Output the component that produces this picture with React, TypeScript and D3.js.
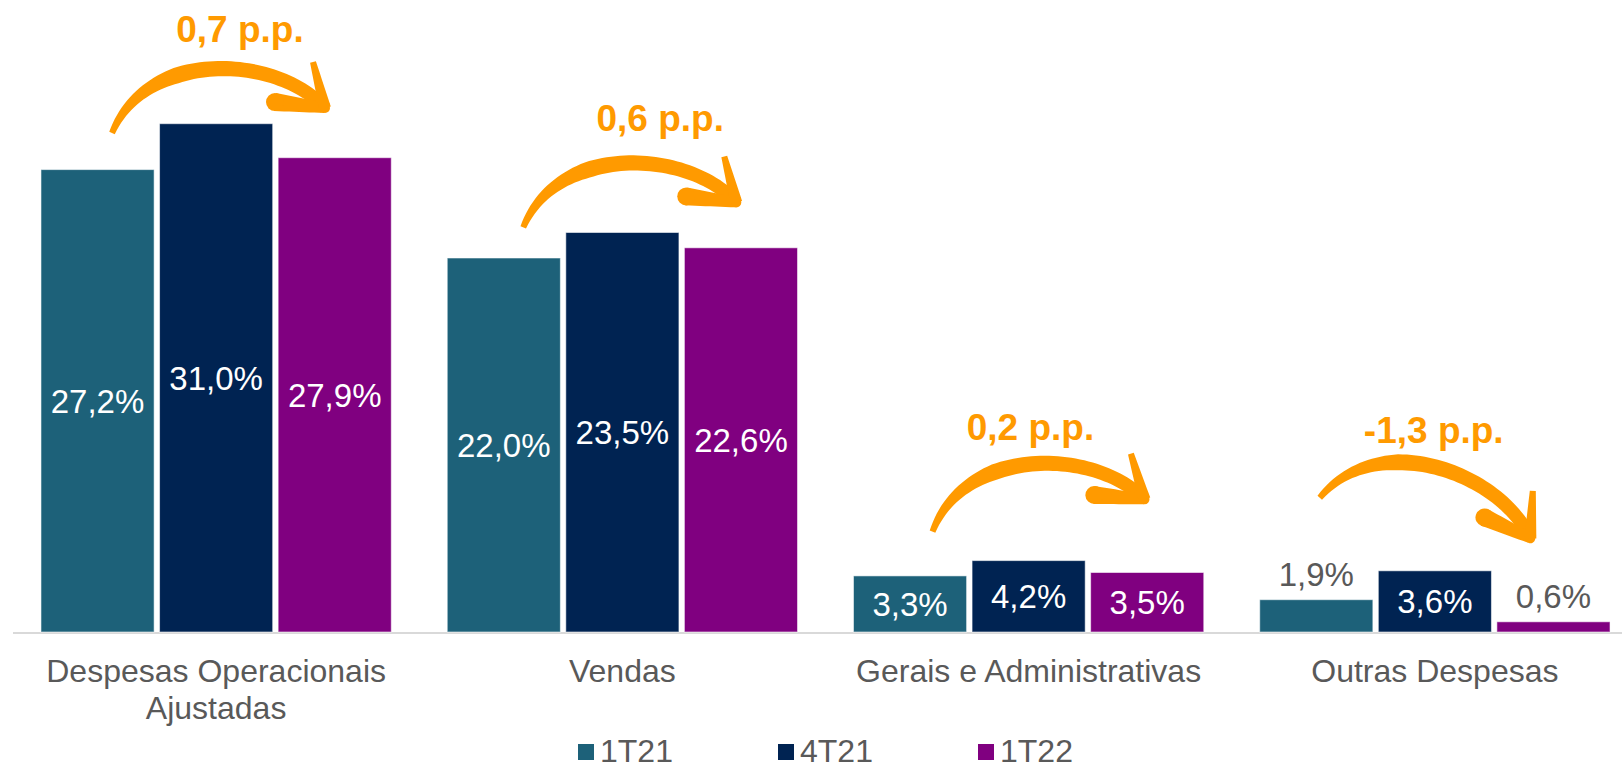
import { useEffect, useRef } from "react";
import * as d3 from "d3";

const categories = ["Despesas Operacionais Ajustadas", "Vendas", "Gerais e Administrativas", "Outras Despesas"];
const categoryLines = [["Despesas Operacionais", "Ajustadas"], ["Vendas"], ["Gerais e Administrativas"], ["Outras Despesas"]];
const series = ["1T21", "4T21", "1T22"];
const values1T21 = [27.2, 22.0, 3.3, 1.9];
const values4T21 = [29.9, 23.5, 4.2, 3.6];
const values1T22 = [27.9, 22.6, 3.5, 0.6];
const labels1T21 = ["27,2%", "22,0%", "3,3%", "1,9%"];
const labels4T21 = ["31,0%", "23,5%", "4,2%", "3,6%"];
const labels1T22 = ["27,9%", "22,6%", "3,5%", "0,6%"];
const deltas = ["0,7 p.p.", "0,6 p.p.", "0,2 p.p.", "-1,3 p.p."];

const colors = ["#1D6179", "#002352", "#800080"];
const ORANGE = "#FF9A00";
const GRAY = "#595959";
const FONT = "'Liberation Sans', Arial, sans-serif";

// arrow placement per category: offset from band start, level in data units, rotation
const arrowLayout = [
  { dx: 99, level: 29.35, rot: 0, tx: 227, tl: 34.7 },
  { dx: 104, level: 23.8, rot: 0, tx: 241, tl: 29.45 },
  { dx: 107, level: 5.9, rot: -2, tx: 205, tl: 11.3 },
  { dx: 88, level: 7.9, rot: 17.6, tx: 202, tl: 11.1 },
];

type P = [number, number];

function bez(p: P[], t: number): P {
  const u = 1 - t;
  const a = u * u * u, b = 3 * u * u * t, c = 3 * u * t * t, d = t * t * t;
  return [a * p[0][0] + b * p[1][0] + c * p[2][0] + d * p[3][0], a * p[0][1] + b * p[1][1] + c * p[2][1] + d * p[3][1]];
}

// closed outline around a polyline with varying width
function tapered(pts: P[], widths: number[]) {
  const left: P[] = [];
  const right: P[] = [];
  pts.forEach((pt, i) => {
    const a = pts[Math.max(0, i - 1)];
    const b = pts[Math.min(pts.length - 1, i + 1)];
    const dx = b[0] - a[0], dy = b[1] - a[1];
    const len = Math.hypot(dx, dy) || 1;
    const nx = -dy / len, ny = dx / len;
    const w = widths[i] / 2;
    left.push([pt[0] + nx * w, pt[1] + ny * w]);
    right.push([pt[0] - nx * w, pt[1] - ny * w]);
  });
  const ring = left.concat(right.reverse());
  return d3.line().curve(d3.curveLinearClosed)(ring) as string;
}

function lerpPts(a: P, b: P, n: number): P[] {
  return d3.range(n + 1).map(i => [a[0] + (b[0] - a[0]) * i / n, a[1] + (b[1] - a[1]) * i / n] as P);
}

export default function App() {
  const svgRef = useRef<SVGSVGElement | null>(null);

  useEffect(() => {
    if (!svgRef.current) return;
    const width = 1622;
    const height = 769;
    const baseline = 632;

    const svg = d3.select(svgRef.current);
    svg.selectAll("*").remove();
    svg.attr("width", width).attr("height", height);

    const x0 = d3.scaleBand<string>().domain(categories).range([13, 1638]).padding(0);
    const x1 = d3.scaleBand<string>().domain(series).range([0, x0.bandwidth()]).paddingInner(0.046).paddingOuter(0.236);
    const y = d3.scaleLinear().domain([0, 35]).range([baseline, baseline - 595]);

    const allValues = [values1T21, values4T21, values1T22];
    const allLabels = [labels1T21, labels4T21, labels1T22];

    // baseline
    svg.append("line")
      .attr("x1", 13).attr("x2", width)
      .attr("y1", baseline + 1).attr("y2", baseline + 1)
      .attr("stroke", "#D9D9D9").attr("stroke-width", 2);

    const rows = categories.flatMap((c, ci) => series.map((s, si) => ({
      c, ci, s, si, v: allValues[si][ci], label: allLabels[si][ci],
    })));

    svg.append("g").selectAll("rect")
      .data(rows)
      .enter()
      .append("rect")
      .attr("x", d => x0(d.c)! + x1(d.s)!)
      .attr("y", d => y(d.v))
      .attr("width", x1.bandwidth())
      .attr("height", d => y(0) - y(d.v))
      .attr("fill", d => colors[d.si])
      .attr("stroke", "#ffffff")
      .attr("stroke-opacity", 0.55)
      .attr("stroke-width", 1);

    svg.append("g").selectAll("text")
      .data(rows)
      .enter()
      .append("text")
      .attr("x", d => x0(d.c)! + x1(d.s)! + x1.bandwidth() / 2)
      .attr("y", d => d.v >= 3 ? (y(d.v) + y(0)) / 2 + 12 : y(d.v) - 14)
      .attr("text-anchor", "middle")
      .attr("font-family", FONT)
      .attr("font-size", 33)
      .attr("fill", d => d.v >= 3 ? "#ffffff" : GRAY)
      .text(d => d.label);

    // category labels
    const cat = svg.append("g").selectAll("text")
      .data(categories)
      .enter()
      .append("text")
      .attr("text-anchor", "middle")
      .attr("font-family", FONT)
      .attr("font-size", 32)
      .attr("fill", GRAY);
    cat.each(function (c, i) {
      const t = d3.select(this);
      categoryLines[i].forEach((line, li) => {
        t.append("tspan")
          .attr("x", x0(c)! + x0.bandwidth() / 2)
          .attr("y", 682 + li * 37)
          .text(line);
      });
    });

    // curved arrows with deltas
    const curve: P[] = [[0, 0], [35, -85], [165, -78], [213, -25]];
    const n = 60;
    const curvePts = d3.range(n + 1).map(i => bez(curve, i / n));
    const curveW = d3.range(n + 1).map(i => {
      const t = i / n;
      return t < 0.35 ? 6 + 10 * (t / 0.35) : 16 - 3 * (t - 0.35) / 0.65;
    });
    const armL = lerpPts([163, -31], [213, -25], 10);
    const armLW = d3.range(11).map(i => 18 - 8 * i / 10);
    const armT = lerpPts([201, -71], [213, -25], 10);
    const armTW = d3.range(11).map(i => 6 + 6 * i / 10);

    categories.forEach((c, i) => {
      const a = arrowLayout[i];
      const bx = x0(c)!;
      const g = svg.append("g")
        .attr("transform", `translate(${bx + a.dx},${y(a.level)}) rotate(${a.rot})`)
        .attr("fill", ORANGE);
      g.append("path").attr("d", tapered(curvePts, curveW));
      g.append("path").attr("d", tapered(armL, armLW));
      g.append("circle").attr("cx", 163).attr("cy", -31).attr("r", 9);
      g.append("circle").attr("cx", 213).attr("cy", -25).attr("r", 5);
      g.append("path").attr("d", tapered(armT, armTW));

      svg.append("text")
        .attr("x", bx + a.tx)
        .attr("y", y(a.tl))
        .attr("text-anchor", "middle")
        .attr("font-family", FONT)
        .attr("font-size", 37)
        .attr("font-weight", 700)
        .attr("fill", ORANGE)
        .text(deltas[i]);
    });

    // legend
    const legX = d3.scaleLinear().domain([0, 1]).range([578, 778]);
    const leg = svg.append("g").selectAll("g")
      .data(series)
      .enter()
      .append("g")
      .attr("transform", (_, i) => `translate(${legX(i)},744)`);
    leg.append("rect").attr("width", 16).attr("height", 16).attr("fill", (_, i) => colors[i]);
    leg.append("text")
      .attr("x", 22)
      .attr("y", 18)
      .attr("font-family", FONT)
      .attr("font-size", 32)
      .attr("fill", GRAY)
      .text(d => d);
  }, []);

  return <svg ref={svgRef} style={{ position: "absolute", left: 0, top: 0, display: "block" }} />;
}
